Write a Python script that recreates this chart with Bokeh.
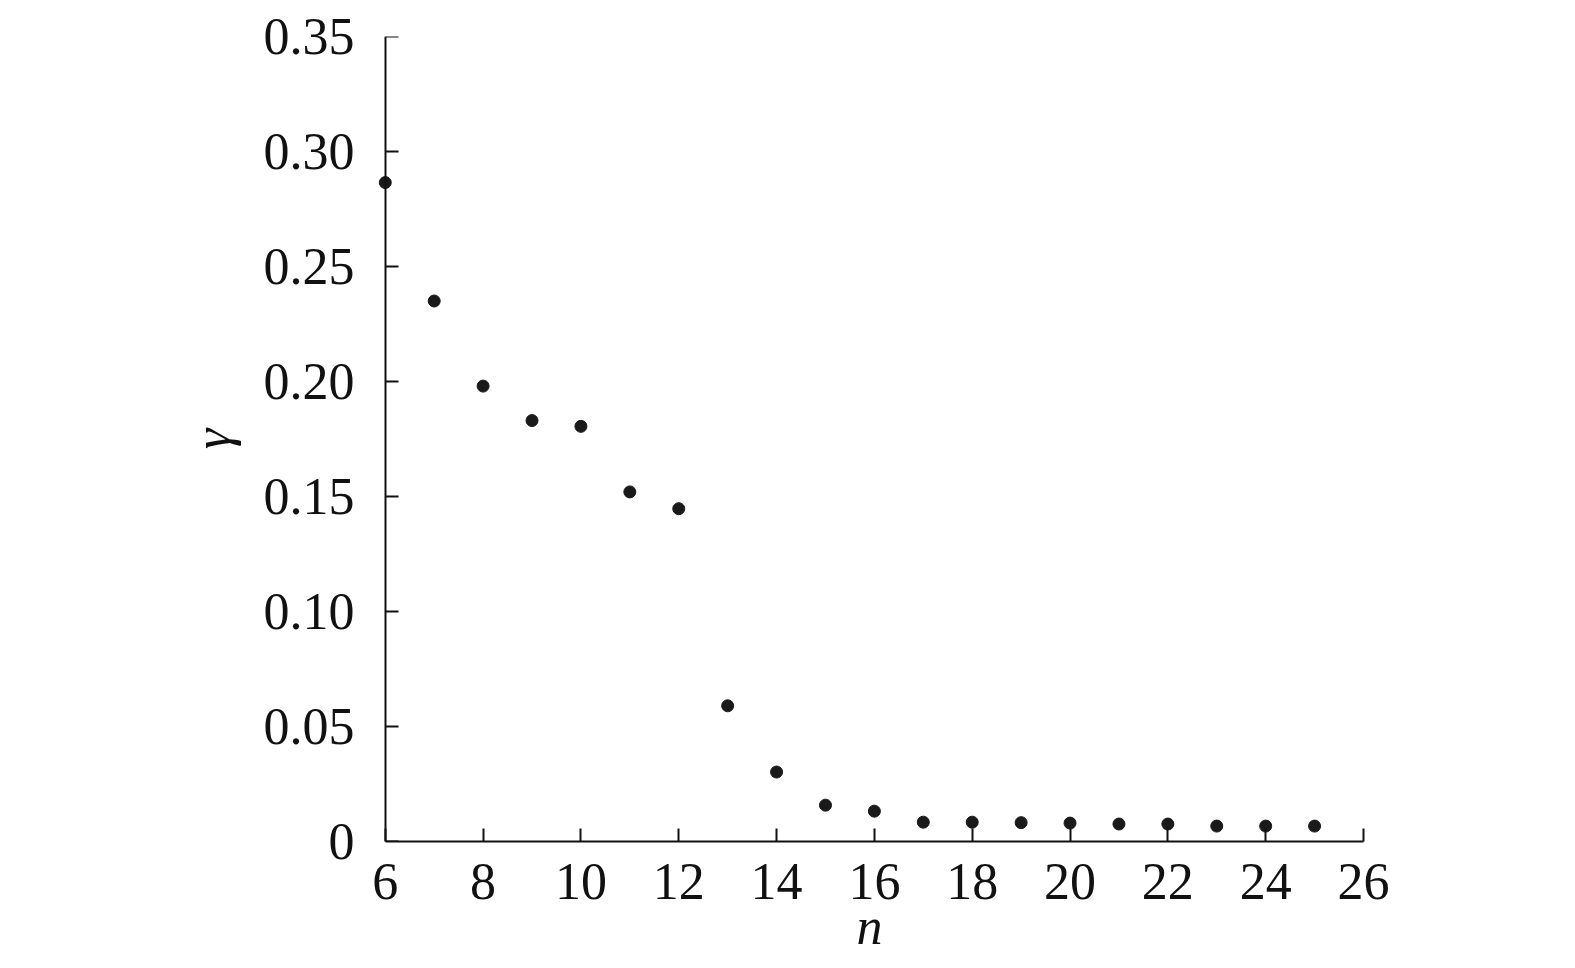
from bokeh.plotting import figure
from bokeh.models import Range1d, FixedTicker, LinearAxis
from bokeh.embed import file_html
from bokeh.resources import INLINE

n_values = [6, 7, 8, 9, 10, 11, 12, 13, 14, 15, 16, 17, 18, 19, 20, 21, 22, 23, 24, 25]
gamma_values = [0.2865, 0.235, 0.198, 0.183, 0.1805, 0.152, 0.1447, 0.059, 0.0302, 0.0158,
                0.0132, 0.0084, 0.0084, 0.0082, 0.0080, 0.0076, 0.0076, 0.0067, 0.0067, 0.0067]
x_ticks = [6, 8, 10, 12, 14, 16, 18, 20, 22, 24, 26]
y_ticks = [0, 0.05, 0.10, 0.15, 0.20, 0.25, 0.30, 0.35]
y_tick_labels = ["0", "0.05", "0.10", "0.15", "0.20", "0.25", "0.30", "0.35"]

# frame: x 5.8..26 so the point on the axis at n=6 is not clipped
p = figure(width=1559, height=968, output_backend="svg", toolbar_location=None,
           x_range=Range1d(5.8, 26), y_range=Range1d(0, 0.35),
           min_border_left=375, min_border_top=36, min_border_right=196, min_border_bottom=127)
p.outline_line_color = None
p.xgrid.visible = False
p.ygrid.visible = False
p.background_fill_color = "white"
p.border_fill_color = "white"

p.scatter(n_values, gamma_values, size=12, color="#1a1a1a", line_color="#1a1a1a")

font = "Liberation Serif"
ink = "#111111"
for ax in (p.xaxis, p.yaxis):
    ax.axis_line_color = ink
    ax.axis_line_width = 2
    ax.major_tick_line_color = ink
    ax.major_tick_line_width = 2
    ax.major_tick_in = 13
    ax.major_tick_out = 0
    ax.minor_tick_line_color = None
    ax.major_label_text_font = font
    ax.major_label_text_font_size = "52px"
    ax.major_label_text_color = ink
    ax.axis_label_text_font = font
    ax.axis_label_text_font_style = "italic"
    ax.axis_label_text_font_size = "52px"
    ax.axis_label_text_color = ink

p.xaxis.ticker = FixedTicker(ticks=x_ticks)
p.xaxis.bounds = (6, 26)
p.xaxis.major_label_standoff = 22
p.xaxis.axis_label = "n"
p.xaxis.axis_label_standoff = -4

# labels-only y axis at the frame edge
p.yaxis.ticker = FixedTicker(ticks=y_ticks)
p.yaxis.axis_line_color = None
p.yaxis.major_tick_line_color = None
p.yaxis.major_label_overrides = {t: l for t, l in zip(y_ticks, y_tick_labels)}
p.yaxis.major_label_standoff = 21
p.yaxis.axis_label = "γ"
p.yaxis.axis_label_standoff = 20

# visible y axis line and ticks at n = 6
yline = LinearAxis(fixed_location=6, ticker=FixedTicker(ticks=y_ticks),
                   axis_line_color=ink, axis_line_width=2,
                   major_tick_line_color=ink, major_tick_line_width=2,
                   major_tick_in=13, major_tick_out=0, minor_tick_line_color=None,
                   major_label_text_font_size="0px", major_label_text_color=None)
p.add_layout(yline, "left")

open("out.html", "w").write(file_html(p, INLINE))
